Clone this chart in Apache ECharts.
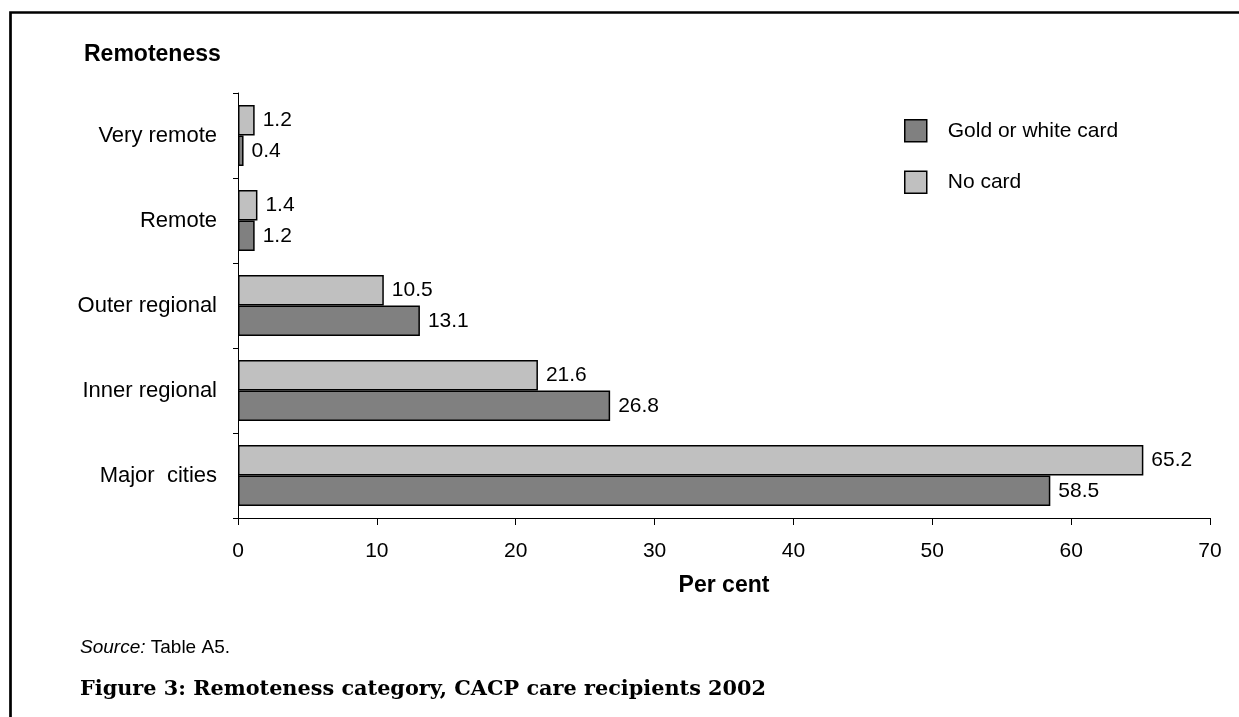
<!DOCTYPE html>
<html>
<head>
<meta charset="utf-8">
<script src="https://cdn.jsdelivr.net/npm/echarts@6/dist/echarts.min.js"></script>
<style>
html,body{margin:0;padding:0;background:#fff;}
#chart{width:1239px;height:717px;}
</style>
</head>
<body>
<div id="chart"></div>
<script>
const categories = ["Major  cities", "Inner regional", "Outer regional", "Remote", "Very remote"];
const goldOrWhiteCard = [58.5, 26.8, 13.1, 1.2, 0.4];
const noCard = [65.2, 21.6, 10.5, 1.4, 1.2];
const xTicks = [0, 10, 20, 30, 40, 50, 60, 70];
const legendNames = ['Gold or white card', 'No card'];

const chart = echarts.init(document.getElementById('chart'), null, {renderer: 'canvas'});
const font = 'Liberation Sans, Arial, sans-serif';
const labelStyle = {
  show: true, position: 'right', distance: 8,
  fontFamily: font, fontSize: 21, color: '#000',
  formatter: p => p.value.toFixed(1)
};
chart.setOption({
  animation: false,
  backgroundColor: '#fff',
  textStyle: {fontFamily: font},
  grid: {left: 238, right: 29, top: 93, bottom: 199, containLabel: false},
  legend: {
    data: legendNames,
    orient: 'vertical',
    left: 904, top: 119, padding: 0,
    icon: 'rect',
    itemWidth: 22, itemHeight: 22, itemGap: 28,
    textStyle: {fontFamily: font, fontSize: 21, color: '#000', padding: [0, 0, 0, 16]},
    itemStyle: {borderColor: '#000', borderWidth: 1.5}
  },
  xAxis: {
    type: 'value', min: xTicks[0], max: xTicks[xTicks.length - 1], interval: 10,
    name: 'Per cent', nameLocation: 'middle', nameGap: 56,
    nameTextStyle: {fontFamily: font, fontSize: 23, fontWeight: 'bold', color: '#000'},
    axisLine: {show: true, lineStyle: {color: '#000', width: 1}},
    axisTick: {show: true, length: 7, lineStyle: {color: '#000'}},
    axisLabel: {fontFamily: font, fontSize: 21, color: '#000', margin: 23},
    splitLine: {show: false}
  },
  yAxis: {
    type: 'category', data: categories,
    axisLine: {show: true, lineStyle: {color: '#000', width: 1}},
    axisTick: {show: true, length: 5, lineStyle: {color: '#000'}},
    axisLabel: {fontFamily: font, fontSize: 22, color: '#000', margin: 21},
    splitLine: {show: false}
  },
  series: [
    {
      name: 'No card', type: 'bar', data: noCard,
      barGap: '0%', barCategoryGap: '28%',
      itemStyle: {color: '#c0c0c0', borderColor: '#000', borderWidth: 1.5},
      label: labelStyle
    },
    {
      name: 'Gold or white card', type: 'bar', data: goldOrWhiteCard,
      barGap: '0%', barCategoryGap: '28%',
      itemStyle: {color: '#808080', borderColor: '#000', borderWidth: 1.5},
      label: labelStyle
    }
  ],
  graphic: [
    {type: 'rect', left: 8, top: 10, silent: true,
     shape: {x: 0, y: 0, width: 1300, height: 800},
     style: {fill: 'none', stroke: '#000', lineWidth: 2.7}},
    {type: 'text', left: 84, top: 43,
     style: {text: 'Remoteness', fontFamily: font, fontSize: 23, fontWeight: 'bold', fill: '#000'}},
    {type: 'text', x: 80, y: 648,
     style: {text: '{i|Source:} Table A5.', fontFamily: font, fontSize: 19, fill: '#000',
       verticalAlign: 'middle',
       rich: {i: {fontStyle: 'italic', fontFamily: font, fontSize: 19}}}},
    {type: 'text', x: 80, y: 690,
     style: {text: 'Figure 3: Remoteness category, CACP care recipients 2002', verticalAlign: 'middle',
       fontFamily: 'DejaVu Serif, serif', fontSize: 20.8, fontWeight: 'bold', fill: '#000'}}
  ]
});
</script>
</body>
</html>
